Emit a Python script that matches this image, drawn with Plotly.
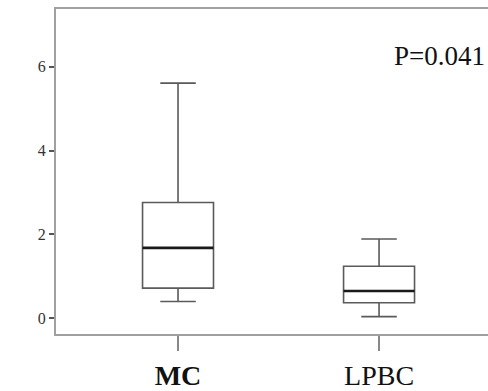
import plotly.graph_objects as go

categories = ["MC", "LPBC"]
tick_labels = ["<b>MC</b>", "LPBC"]
lower_whisker = [0.40, 0.04]
q1_values = [0.72, 0.37]
median_values = [1.68, 0.65]
q3_values = [2.76, 1.24]
upper_whisker = [5.61, 1.89]
p_label = "P=0.041"
y_ticks = [0, 2, 4, 6]

fig = go.Figure()
fig.add_trace(go.Box(
    x=categories, q1=q1_values, median=median_values, q3=q3_values,
    lowerfence=lower_whisker, upperfence=upper_whisker,
    width=0.353, whiskerwidth=0.5, fillcolor="rgba(0,0,0,0)",
    line=dict(color="#5a5a5a", width=1.6), boxpoints=False,
    showlegend=False, hoverinfo="skip"))
# median emphasis (thicker dark line)
fig.add_trace(go.Box(
    x=categories, q1=median_values, median=median_values, q3=median_values,
    lowerfence=median_values, upperfence=median_values,
    width=0.353, whiskerwidth=0, fillcolor="rgba(0,0,0,0)",
    line=dict(color="#1a1a1a", width=2.6), boxpoints=False,
    showlegend=False, hoverinfo="skip"))

fig.add_annotation(x=1.30, y=6.25, xref="x", yref="y", text=p_label,
                   showarrow=False, xanchor="center", yanchor="middle",
                   font=dict(family="Liberation Serif", size=27, color="#111"))

fig.update_layout(
    width=488, height=391, margin=dict(l=56, r=0, t=9, b=51),
    paper_bgcolor="white", plot_bgcolor="white", boxmode="overlay",
    xaxis=dict(type="category", range=[-0.607, 1.542], tickvals=categories,
               ticktext=tick_labels, showgrid=False, zeroline=False,
               showline=True, linecolor="#a0a0a0", linewidth=2, mirror=True,
               ticks="outside", ticklen=15, tickwidth=2, tickcolor="#888",
               tickfont=dict(family="Liberation Serif", size=28, color="#111")),
    yaxis=dict(range=[-0.375, 7.377], tickvals=y_ticks, showgrid=False,
               zeroline=False, showline=True, linecolor="#a0a0a0", linewidth=2,
               ticks="outside", ticklen=5, tickwidth=1.5, tickcolor="#555",
               tickfont=dict(family="Liberation Serif", size=16, color="#333")),
)
fig.write_html("out.html")
